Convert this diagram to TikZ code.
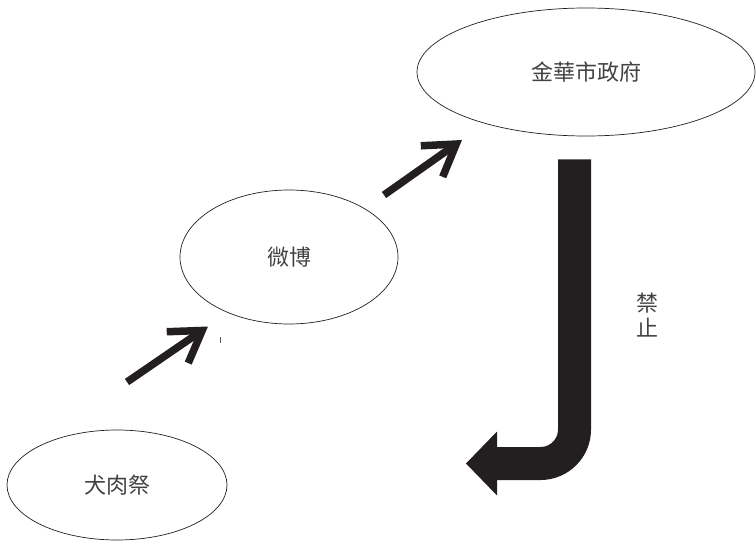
\documentclass[tikz,border=0pt]{standalone}
\usepackage{fontspec}
\newfontfamily\cjk{Noto Sans CJK TC}
\usetikzlibrary{shapes.geometric,arrows.meta}
\definecolor{ink}{HTML}{231F20}
\tikzset{
  bubble/.style={ellipse,draw=ink,line width=0.7pt,inner sep=0pt,font=\cjk\fontsize{22}{25}\selectfont,text=ink!85},
  fatarrow/.style={draw=ink,line width=7.5pt,-{Straight Barb[length=30pt,width=38pt]}},
  bigbar/.style={draw=ink,line width=33pt,rounded corners=34pt},
  lbl/.style={font=\cjk\fontsize{22}{25}\selectfont,text=ink!85,align=center},
}
\begin{document}
\begin{tikzpicture}[x=1pt,y=1pt]
\useasboundingbox (0,0) rectangle (756,542);
% nodes
\node[bubble,minimum width=338pt,minimum height=128pt] (gov) at (586,470) {金華市政府};
\node[bubble,minimum width=218pt,minimum height=134pt] (weibo) at (289,285) {微博};
\node[bubble,minimum width=220pt,minimum height=110pt] (dog) at (117,57) {犬肉祭};
% small arrows
\coordinate (a1s) at (127,160);
\coordinate (a1e) at (208,215.5);
\coordinate (a2s) at (384,347);
\coordinate (a2e) at (462,402);
\draw[fatarrow] (a1s) -- (a1e);
\draw[fatarrow] (a2s) -- (a2e);
% tick mark
\coordinate (t1) at (220,205);
\coordinate (t2) at (220,199);
\draw[ink!70,line width=0.6pt] (t1) -- (t2);
% big J arrow
\coordinate (jtop) at (574.5,382.7);
\coordinate (jcorner) at (574.5,78.5);
\coordinate (jend) at (496,78.5);
\coordinate (jtip) at (466,78.5);
\draw[bigbar] (jtop) -- (jcorner) -- (jend);
\fill[ink] (497,110.5) -- (jtip) -- (497,46.5) -- cycle;
% label
\node[lbl] (ban) at (647,227) {禁\\止};
\end{tikzpicture}
\end{document}
